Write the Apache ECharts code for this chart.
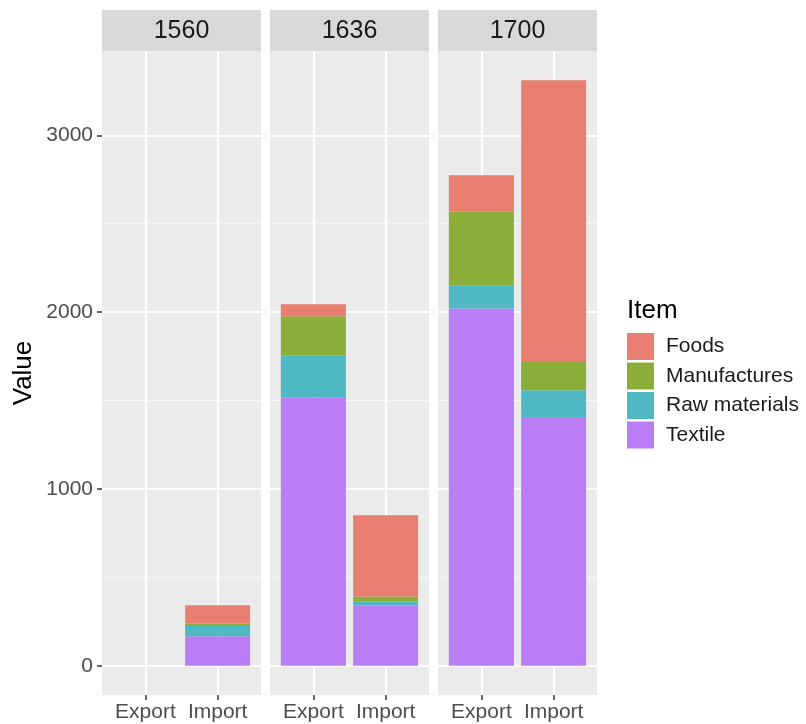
<!DOCTYPE html>
<html>
<head>
<meta charset="utf-8">
<script src="https://cdn.jsdelivr.net/npm/echarts@6/dist/echarts.min.js"></script>
<style>
html,body{margin:0;padding:0;background:#fff;}
#chart{width:806px;height:724px;}
</style>
</head>
<body>
<div id="chart"></div>
<script>
// ---- data ----
const panels = ['1560', '1636', '1700'];
const flows = ['Export', 'Import'];
const items = ['Foods', 'Manufactures', 'Raw materials', 'Textile'];
// values ordered: [1560 Export, 1560 Import, 1636 Export, 1636 Import, 1700 Export, 1700 Import]
const textile      = [null, 167, 1517, 340, 2020, 1407];
const rawMaterials = [null,  58,  239,  25,  132,  151];
const manufactures = [null,  14,  221,  27,  415,  160];
const foods        = [null, 103,   68, 459,  207, 1593];
const yTicks = [0, 1000, 2000, 3000];
const yTickLabels = ['0', '1000', '2000', '3000'];
const yMinorBreaks = [500, 1500, 2500];

// ---- styling / layout ----
const itemColors = {
  'Foods': '#E97F71',
  'Manufactures': '#8BAE38',
  'Raw materials': '#4FB9C3',
  'Textile': '#BB7DF6'
};
const FONT = '"Liberation Sans", Arial, sans-serif';
const PANEL_LEFT = [102, 270, 438];
const PANEL_W = 159;
const PANEL_TOP = 51;
const PANEL_H = 644;
const STRIP_TOP = 10;
const STRIP_H = 41;
const HALF_BAR = 0.45;
const TICK_LEN = 5;

// stacking bottom-up like ggplot: Textile, Raw materials, Manufactures, Foods
const stackOrder = [
  ['Textile', textile],
  ['Raw materials', rawMaterials],
  ['Manufactures', manufactures],
  ['Foods', foods]
];

const totals = textile.map((v, i) => (v || 0) + (rawMaterials[i] || 0) + (manufactures[i] || 0) + (foods[i] || 0));
const maxTotal = Math.max(...totals);
const yMin = -0.05 * maxTotal;
const yMax = 1.05 * maxTotal;
const xPositions = flows.map((f, fi) => fi + 1);

const grids = [], xAxes = [], yAxes = [], series = [], graphics = [];

panels.forEach((p, pi) => {
  grids.push({
    left: PANEL_LEFT[pi], top: PANEL_TOP, width: PANEL_W, height: PANEL_H,
    show: true, backgroundColor: '#EBEBEB', borderWidth: 0,
    containLabel: false, outerBoundsMode: 'none'
  });
  xAxes.push({
    gridIndex: pi, type: 'value', min: 0.4, max: 2.6, interval: 1, position: 'bottom',
    axisLine: { show: false, onZero: false },
    axisTick: { show: true, customValues: xPositions, length: TICK_LEN, lineStyle: { color: 'rgba(0,0,0,0)', width: 1.5 } },
    axisLabel: {
      show: true, customValues: xPositions, margin: 7,
      fontSize: 21, fontFamily: FONT, color: '#4D4D4D',
      formatter: v => {
        const i = xPositions.findIndex(t => Math.abs(t - v) < 1e-6);
        return i >= 0 ? flows[i] : '';
      }
    },
    splitLine: { show: true, lineStyle: { color: '#FFFFFF', width: 2 } }
  });
  yAxes.push({
    gridIndex: pi, type: 'value', min: yMin, max: yMax, interval: 1000, position: 'left',
    name: pi === 0 ? 'Value' : '',
    nameLocation: 'middle', nameGap: 65, nameRotate: 90,
    nameTextStyle: { fontSize: 26, fontFamily: FONT, color: '#000000' },
    axisLine: { show: false, onZero: false },
    axisTick: { show: pi === 0, customValues: yTicks, length: TICK_LEN, lineStyle: { color: '#333333', width: 1.5 } },
    axisLabel: {
      show: pi === 0, customValues: yTicks, margin: 9,
      fontSize: 21, fontFamily: FONT, color: '#4D4D4D',
      formatter: v => {
        const i = yTicks.findIndex(t => Math.abs(t - v) < 1e-6);
        return i >= 0 ? yTickLabels[i] : '';
      }
    },
    splitLine: { show: true, lineStyle: { color: '#FFFFFF', width: 2 } }
  });

  // minor horizontal gridlines
  series.push({
    type: 'custom', name: 'minor-grid', xAxisIndex: pi, yAxisIndex: pi, silent: true, z: 1,
    data: yMinorBreaks.map(v => [v]),
    encode: { y: 0 },
    renderItem: (params, api) => {
      const v = api.value(0);
      const a = api.coord([0.4, v]);
      const b = api.coord([2.6, v]);
      return { type: 'line', shape: { x1: a[0], y1: a[1], x2: b[0], y2: b[1] }, style: { stroke: '#F7F7F7', lineWidth: 1 } };
    }
  });

  // stacked bars
  const base = [0, 0];
  stackOrder.forEach(([name, arr]) => {
    const data = [];
    flows.forEach((f, fi) => {
      const v = arr[pi * 2 + fi];
      if (v == null) return;
      data.push([xPositions[fi], base[fi], base[fi] + v]);
      base[fi] += v;
    });
    series.push({
      type: 'custom', name: name, xAxisIndex: pi, yAxisIndex: pi, z: 3,
      itemStyle: { color: itemColors[name] },
      encode: { x: 0, y: [1, 2] },
      data: data,
      renderItem: (params, api) => {
        const x = api.value(0), b = api.value(1), t = api.value(2);
        const p0 = api.coord([x - HALF_BAR, t]);
        const p1 = api.coord([x + HALF_BAR, b]);
        return {
          type: 'rect',
          shape: { x: p0[0], y: p0[1], width: p1[0] - p0[0], height: p1[1] - p0[1] },
          style: { fill: itemColors[name] }
        };
      }
    });
  });

  // facet strip
  graphics.push({
    type: 'group', left: PANEL_LEFT[pi], top: STRIP_TOP,
    children: [
      { type: 'rect', shape: { x: 0, y: 0, width: PANEL_W, height: STRIP_H }, style: { fill: '#D9D9D9' } },
      { type: 'text', x: PANEL_W / 2, y: STRIP_H / 2 + 1,
        style: { text: p, fill: '#1A1A1A', font: '25px ' + FONT, textAlign: 'center', textVerticalAlign: 'middle' } }
    ]
  });
});

// thin tick-mark strips under each panel: their x split lines are the ggplot x-axis ticks
panels.forEach((p, pi) => {
  const gi = panels.length + pi;
  grids.push({
    left: PANEL_LEFT[pi], top: PANEL_TOP + PANEL_H, width: PANEL_W, height: TICK_LEN,
    show: false, containLabel: false, outerBoundsMode: 'none'
  });
  xAxes.push({
    gridIndex: gi, type: 'value', min: 0.4, max: 2.6, interval: 1,
    axisLine: { show: false, onZero: false },
    axisTick: { show: true, customValues: xPositions, lineStyle: { color: 'rgba(0,0,0,0)' } },
    axisLabel: { show: false },
    splitLine: { show: true, lineStyle: { color: '#333333', width: 1.5 } }
  });
  yAxes.push({
    gridIndex: gi, type: 'value', min: 0, max: 1,
    axisLine: { show: false }, axisTick: { show: false }, axisLabel: { show: false },
    splitLine: { show: false }
  });
});

const chart = echarts.init(document.getElementById('chart'), null, { renderer: 'canvas' });
chart.setOption({
  animation: false,
  backgroundColor: '#FFFFFF',
  textStyle: { fontFamily: FONT },
  title: {
    text: 'Item', left: 627, top: 298, padding: 0,
    textStyle: { fontSize: 26, fontWeight: 'normal', color: '#000000', fontFamily: FONT }
  },
  legend: {
    data: items, orient: 'vertical', left: 627, top: 333, padding: 0,
    itemWidth: 27, itemHeight: 27, itemGap: 2.5, icon: 'rect',
    selectedMode: false,
    textStyle: { fontSize: 21, color: '#1A1A1A', fontFamily: FONT, padding: [0, 0, 0, 7] }
  },
  grid: grids,
  xAxis: xAxes,
  yAxis: yAxes,
  series: series,
  graphic: graphics
});
</script>
</body>
</html>
